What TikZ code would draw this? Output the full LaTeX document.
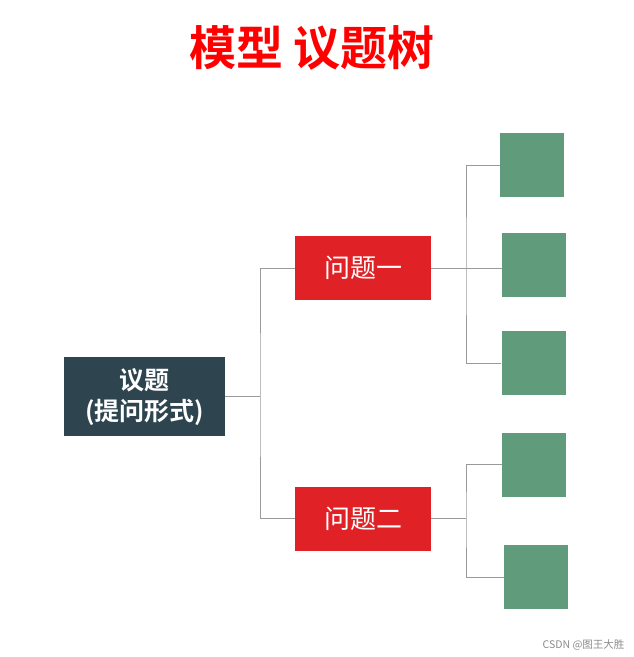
\documentclass[tikz,border=0pt]{standalone}
\usepackage{fontspec}
\newfontfamily\cjk{Noto Sans CJK SC}[BoldFont={Noto Sans CJK SC Bold}]
\definecolor{darkbox}{HTML}{2E4550}
\definecolor{redbox}{HTML}{E02226}
\definecolor{greenbox}{HTML}{609C7C}
\definecolor{linegray}{HTML}{9A9A9A}
\begin{document}
\begin{tikzpicture}[x=1pt,y=-1pt,
  rootbox/.style={fill=darkbox,draw=none,minimum width=161pt,minimum height=79pt,inner sep=0pt,
    text=white,font=\cjk\bfseries\fontsize{25}{31}\selectfont,align=center},
  qbox/.style={fill=redbox,draw=none,minimum width=136pt,minimum height=64pt,inner sep=0pt,
    text=white,font=\cjk\fontsize{26}{30}\selectfont},
  gbox/.style={fill=greenbox,draw=none,minimum width=64pt,minimum height=64pt,inner sep=0pt},
  conn/.style={draw=linegray,line width=1pt}]
\useasboundingbox[fill=white] (0,0) rectangle (633,657);
\node[text=red,font=\cjk\bfseries\fontsize{47}{52}\selectfont] (title) at (312,48) {模型 议题树};
\node[rootbox] (root) at (144.5,396.5) {议题\\(提问形式)};
\node[qbox] (q1) at (363,268) {问题一};
\node[qbox] (q2) at (363,518.5) {问题二};
\node[gbox] (g1) at (532,165) {};
\node[gbox] (g2) at (534,265) {};
\node[gbox] (g3) at (533.5,363) {};
\node[gbox] (g4) at (534,464.5) {};
\node[gbox] (g5) at (536,577) {};
\coordinate (jr) at (260,396.5);
\coordinate (j1) at (466,268);
\coordinate (j2) at (466,518.5);
\draw[conn] (root.east) -- (jr);
\draw[conn] (q1.west) -| (jr) |- (q2.west);
\draw[conn] (q1.east) -- (q1.east -| g2.west);
\draw[conn] (g1.west) -| (j1) |- (g3.west);
\draw[conn] (q2.east) -- (j2);
\draw[conn] (g4.west) -| (j2) |- (g5.west);
\node[text=black!45,font=\cjk\fontsize{10.5}{12}\selectfont,anchor=east] (wm) at (628,645) {CSDN @图王大胜};
\end{tikzpicture}
\end{document}
